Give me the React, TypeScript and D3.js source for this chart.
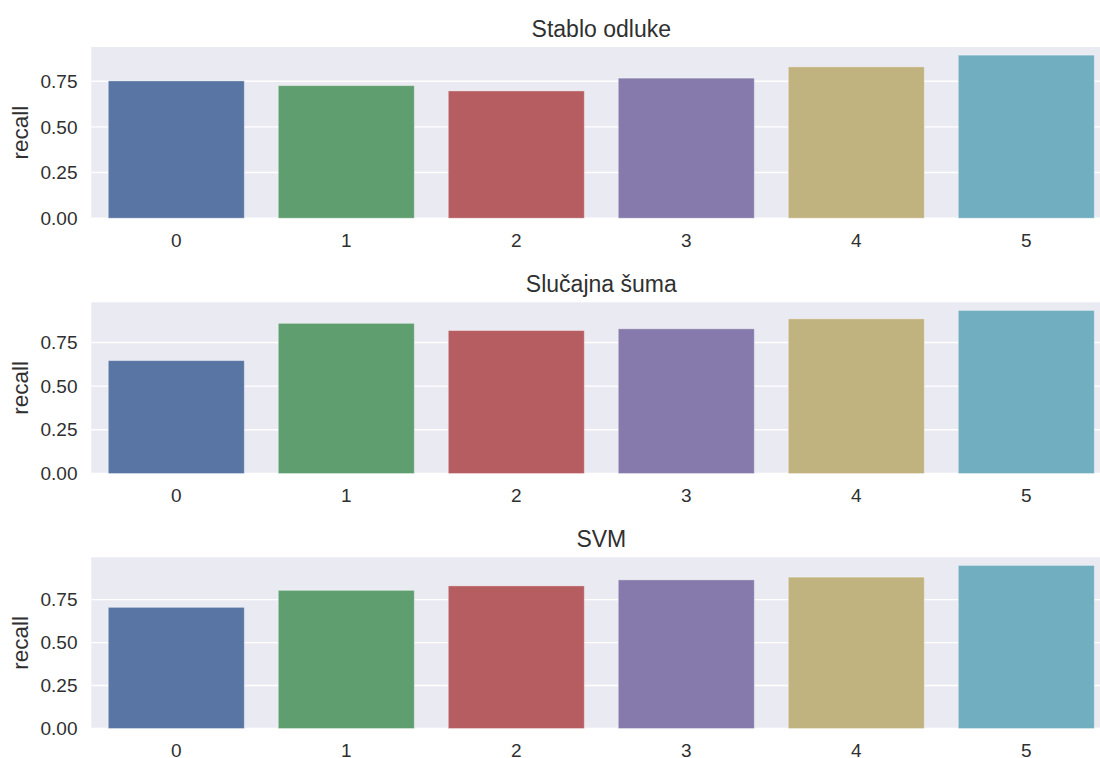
import React from "react";
import * as d3 from "d3";

const categories = ["0", "1", "2", "3", "4", "5"];
const titles = ["Stablo odluke", "Slučajna šuma", "SVM"];
const stabloValues = [0.752, 0.726, 0.697, 0.767, 0.829, 0.893];
const sumaValues = [0.646, 0.859, 0.818, 0.828, 0.885, 0.933];
const svmValues = [0.705, 0.804, 0.83, 0.865, 0.881, 0.949];
const yTicks = [0, 0.25, 0.5, 0.75];
const yLabel = "recall";
const colors = ["#5975a4", "#5f9e6e", "#b55d60", "#857aab", "#c1b37f", "#71aec0"];

const panels = [stabloValues, sumaValues, svmValues];

const W = 1100;
const H = 758;
const left = 91.3;
const right = 1111.3;
const tops = [47, 302.3, 557.3];
const panelH = 171.2;
const font = "'Liberation Sans', Arial, sans-serif";
const textColor = "#303030";

export default function App() {
  const x = d3.scaleBand<string>().domain(categories).range([left, right]).paddingInner(0.2).paddingOuter(0.1);
  return (
    <svg width={W} height={H} style={{ position: "absolute", left: 0, top: 0, background: "#fff" }} fontFamily={font}>
      {panels.map((vals, pi) => {
        const top = tops[pi];
        const bottom = top + panelH;
        const y = d3.scaleLinear().domain([0, (d3.max(vals) as number) * 1.05]).range([bottom, top]);
        return (
          <g key={pi}>
            <rect x={left} y={top} width={right - left} height={panelH} fill="#EAEAF2" />
            {yTicks.map((t) => (
              <line key={t} x1={left} x2={right} y1={y(t)} y2={y(t)} stroke="#fff" strokeWidth={1.4} />
            ))}
            {vals.map((v, i) => (
              <rect
                key={i}
                x={x(categories[i])}
                y={y(v)}
                width={x.bandwidth()}
                height={y(0) - y(v)}
                fill={colors[i]}
                stroke="#ffffff"
                strokeOpacity={0.35}
                strokeWidth={1}
              />
            ))}
            {yTicks.map((t) => (
              <text key={t} x={77.5} y={y(t)} dy="0.35em" textAnchor="end" fontSize={19} fill={textColor}>
                {d3.format(".2f")(t)}
              </text>
            ))}
            {categories.map((c) => (
              <text key={c} x={(x(c) as number) + x.bandwidth() / 2} y={bottom + 28.5} textAnchor="middle" fontSize={19} fill={textColor}>
                {c}
              </text>
            ))}
            <text
              transform={`translate(${27.5},${(top + bottom) / 2}) rotate(-90)`}
              textAnchor="middle"
              fontSize={22.5}
              fill={textColor}
            >
              {yLabel}
            </text>
            <text x={(left + right) / 2} y={top - 10} textAnchor="middle" fontSize={23} fill={textColor}>
              {titles[pi]}
            </text>
          </g>
        );
      })}
    </svg>
  );
}
